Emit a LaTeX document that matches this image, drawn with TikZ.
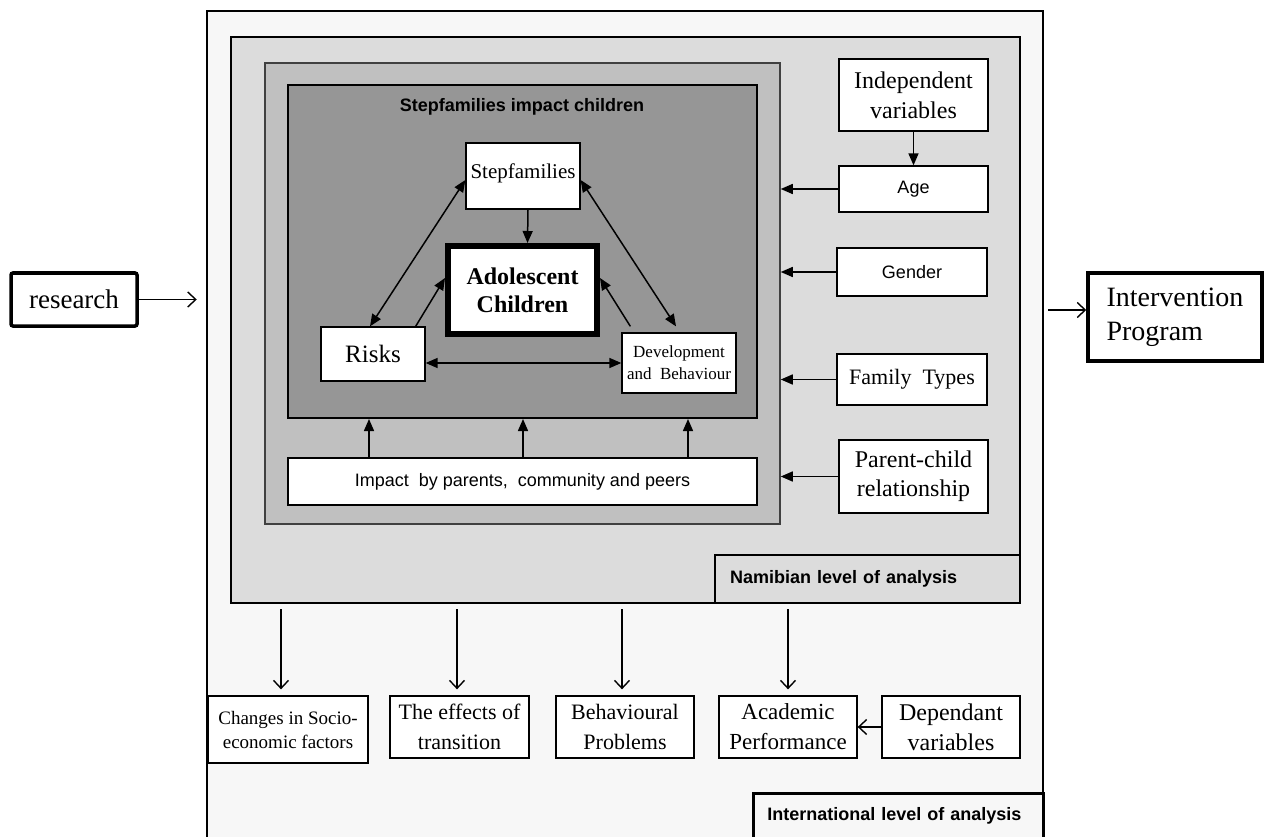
\documentclass[tikz,border=0pt]{standalone}
\usepackage{fontspec}
\setmainfont{Liberation Serif}
\setsansfont{Liberation Sans}
\usetikzlibrary{arrows.meta}

\definecolor{intlgray}{HTML}{F7F7F7}
\definecolor{namgray}{HTML}{DCDCDC}
\definecolor{midgray}{HTML}{C0C0C0}
\definecolor{coregray}{HTML}{969696}

\begin{document}
\begin{tikzpicture}[x=1pt,y=-1pt,
    tier/.style={draw, line width=2.5pt, inner sep=0pt},
    wbox/.style={draw, fill=white, line width=1.3pt, inner sep=1pt, align=center,
                 font=\fontsize{22}{28}\selectfont},
    sansbox/.style={wbox, font=\sffamily\fontsize{18}{22}\selectfont},
    sz/.style n args={2}{minimum width=#1, minimum height=#2},
    fat/.style={-{Triangle[length=12pt,width=10pt]}, line width=1.5pt},
    fatboth/.style={{Triangle[length=12pt,width=10pt]}-{Triangle[length=12pt,width=10pt]}, line width=1.5pt},
    open/.style={-{Straight Barb[length=8pt,width=15pt]}, line width=1.4pt}]
    \useasboundingbox (0,0) rectangle (1264,837);
    \clip (0,0) rectangle (1264,837);
    \fill[white] (0,0) rectangle (1264,837);

    % levels of analysis
    \node[tier, fill=intlgray, sz={836pt}{840pt}] (intl) at (625,431) {};
    \node[tier, fill=namgray, sz={789pt}{566pt}] (nam) at (625.5,320) {};
    \node[draw=black!75, line width=1.5pt, fill=midgray, inner sep=0pt, sz={515pt}{461pt}] (mid) at (522.5,293.5) {};
    \node[draw, line width=2pt, fill=coregray, inner sep=0pt, sz={469pt}{333pt}] (core) at (522.5,251.5) {};
    \node[font=\sffamily\bfseries\fontsize{18}{22}\selectfont] (title) at (522,107) {Stepfamilies impact children};

    \node[tier, fill=namgray, sz={305pt}{48pt}, text width=275pt, inner xsep=15pt, align=left,
          font=\sffamily\bfseries\fontsize{18}{22}\selectfont] (namlbl) at (867.5,579) {Namibian level of analysis};
    \node[tier, fill=intlgray, anchor=north west, text width=262pt, inner xsep=14pt, inner ysep=8pt,
          text height=19.5pt, text depth=40pt, align=left,
          font=\sffamily\bfseries\fontsize{18}{22}\selectfont] (intllbl) at (752,792) {International level of analysis};

    % stepfamily core
    \node[wbox, sz={114pt}{66pt}, text depth=9pt, font=\fontsize{21}{26}\selectfont] (step) at (523,176) {Stepfamilies};
    \node[wbox, line width=6pt, sz={149pt}{88pt}, font=\bfseries\fontsize{24}{28}\selectfont] (adol) at (522.5,290) {Adolescent\\Children};
    \draw[line width=1.2pt] ([xshift=5.5pt,yshift=-5.5pt]adol.north west) rectangle ([xshift=-5.5pt,yshift=5.5pt]adol.south east);
    \node[wbox, sz={104pt}{54pt}, font=\fontsize{25}{30}\selectfont] (risks) at (373,354) {Risks};
    \node[wbox, sz={114pt}{60pt}, font=\fontsize{17}{22}\selectfont] (dev) at (679,363) {Development\\and~ Behaviour};
    \node[sansbox, sz={469pt}{47pt}] (impact) at (522.5,481.5) {Impact~ by parents,~ community and peers};

    \draw[fat] ([xshift=5pt]step.south) -- ([xshift=5pt]adol.north);
    \draw[fatboth] ([xshift=-3pt]risks.north) -- ([yshift=-4pt]step.west);
    \draw[fat] ([xshift=-10pt]risks.north east) -- ([yshift=12pt]adol.west);
    \draw[fatboth] ([yshift=-4pt]step.east) -- ([xshift=-3pt,yshift=6pt]dev.north);
    \draw[fat] ([xshift=9pt,yshift=6pt]dev.north west) -- ([yshift=12pt]adol.east);
    \draw[fatboth] (risks.east |- dev.west) -- (dev.west);
    \foreach \xx in {369,523,688}
        \draw[fat] (\xx,0 |- impact.north) -- (\xx,0 |- core.south);

    % independent variables
    \node[wbox, sz={149pt}{72pt}, font=\fontsize{24}{30}\selectfont] (indep) at (913.5,95) {Independent\\variables};
    \node[sansbox, sz={149pt}{46pt}] (age) at (913.5,189) {Age};
    \node[sansbox, sz={150pt}{48pt}] (gender) at (912,272) {Gender};
    \node[wbox, sz={150pt}{51pt}] (family) at (912,379.5) {Family~ Types};
    \node[wbox, sz={149pt}{73pt}, font=\fontsize{24}{29}\selectfont] (parent) at (913.5,476.5) {Parent-child\\relationship};

    \draw[fat] (indep.south) -- (age.north);
    \foreach \nd in {age,gender,family,parent}
        \draw[fat] (\nd.west) -- (\nd.west -| mid.east);

    % input and output
    \node[wbox, line width=3.5pt, rounded corners=2pt, sz={126pt}{53pt}, font=\fontsize{27}{32}\selectfont] (research) at (74,299.5) {research};
    \node[wbox, line width=3.5pt, sz={174pt}{88pt}, align=left, font=\fontsize{28}{34}\selectfont] (interv) at (1175,317) {Intervention\\Program};
    \coordinate (ivin) at ([yshift=7pt]interv.west);

    \draw[open, shorten >=9pt] (research.east) -- (research.east -| intl.west);
    \draw[open, shorten <=4pt] (ivin -| intl.east) -- (ivin);

    % dependant variables
    \node[wbox, sz={160pt}{67pt}, font=\fontsize{19}{24}\selectfont] (changes) at (288,729.5) {Changes in Socio-\\economic factors};
    \node[wbox, sz={139pt}{62pt}, font=\fontsize{22}{30}\selectfont] (effects) at (459.5,727) {The effects of\\transition};
    \node[wbox, sz={138pt}{62pt}, font=\fontsize{22}{30}\selectfont] (behav) at (625,727) {Behavioural\\Problems};
    \node[wbox, sz={138pt}{62pt}, font=\fontsize{23}{30}\selectfont] (acad) at (788,727) {Academic\\Performance};
    \node[wbox, sz={138pt}{62pt}, font=\fontsize{24}{30}\selectfont] (dep) at (951,727) {Dependant\\variables};

    \foreach \xx/\nd in {281/changes,457/effects,622/behav,788/acad}
        \draw[open, shorten <=5pt, shorten >=6pt] (\xx,0 |- nam.south) -- (\xx,0 |- \nd.north);
    \draw[open] (dep.west) -- (acad.east);
\end{tikzpicture}
\end{document}
